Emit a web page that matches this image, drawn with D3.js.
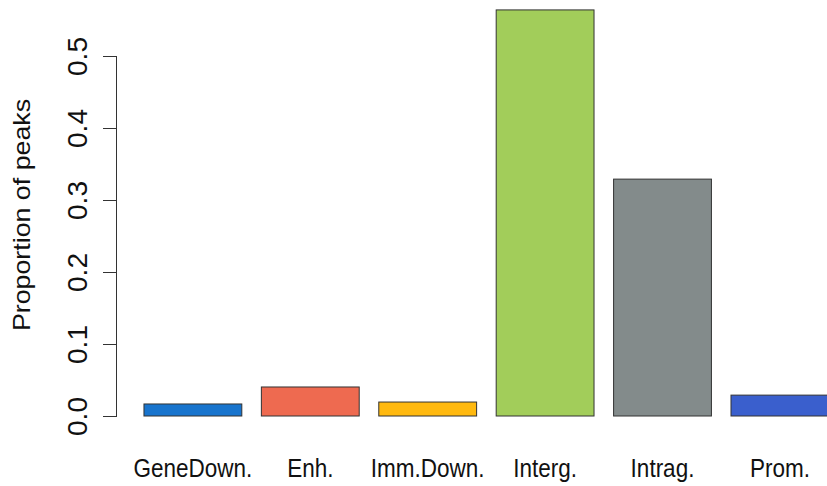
<!DOCTYPE html>
<html>
<head>
<meta charset="utf-8">
<script src="https://cdn.jsdelivr.net/npm/d3@7"></script>
<style>
  html, body { margin: 0; padding: 0; background: #fff; }
  svg { display: block; }
  text { font-family: "Liberation Sans", Arial, Helvetica, sans-serif; fill: #111; }
</style>
</head>
<body>
<svg id="chart" width="827" height="486"></svg>
<script>
// Peak annotation categories and their share of peaks
const categories = ["GeneDown.", "Enh.", "Imm.Down.", "Interg.", "Intrag.", "Prom."];
const proportions = [0.0167, 0.0403, 0.0194, 0.564, 0.329, 0.029];
const barColors = ["#1874CD", "#EE6A50", "#FFB90F", "#A2CD5A", "#838B8B", "#3A5FCD"];
const yTicks = [0.0, 0.1, 0.2, 0.3, 0.4, 0.5];
const yTitle = "Proportion of peaks";

const svg = d3.select("#chart");

// Bars: width 1, gap 0.2 (barplot style spacing)
const x = d3.scaleBand()
  .domain(categories)
  .range([124.4, 848.4])
  .paddingInner(0.2 / 1.2)
  .paddingOuter(0.2 / 1.2);

const y = d3.scaleLinear().domain([0, 0.5]).range([416, 56]);

svg.append("g")
  .selectAll("rect")
  .data(categories)
  .join("rect")
  .attr("x", d => x(d))
  .attr("width", x.bandwidth())
  .attr("y", (d, i) => y(proportions[i]))
  .attr("height", (d, i) => y(0) - y(proportions[i]))
  .attr("fill", (d, i) => barColors[i])
  .attr("stroke", "#333")
  .attr("stroke-width", 1);

// Left axis with rotated tick labels
const axisX = 117;
const yAxis = d3.axisLeft(y)
  .tickValues(yTicks)
  .tickSize(14)
  .tickPadding(0)
  .tickFormat(d3.format(".1f"));

const gy = svg.append("g")
  .attr("transform", `translate(${axisX},0)`)
  .call(yAxis);
gy.select(".domain").attr("stroke", "#333").attr("d", `M-0.5,${y(0.5)}V${y(0)}`);
gy.selectAll(".tick line").attr("stroke", "#333");
gy.selectAll(".tick text")
  .attr("x", null).attr("y", null).attr("dy", null)
  .attr("text-anchor", "middle")
  .attr("font-size", 27)
  .attr("transform", "translate(-30,0) rotate(-90) scale(1.04,1)");

// Category labels
svg.append("g")
  .selectAll("text")
  .data(categories)
  .join("text")
  .attr("text-anchor", "middle")
  .attr("font-size", 22.5)
  .attr("transform", d => `translate(${x(d) + x.bandwidth() / 2},477) scale(1,1.16)`)
  .text(d => d);

// Axis title
svg.append("text")
  .attr("text-anchor", "middle")
  .attr("font-size", 23.5)
  .attr("transform", "translate(30,215) rotate(-90) scale(1.14,1)")
  .text(yTitle);
</script>
</body>
</html>
